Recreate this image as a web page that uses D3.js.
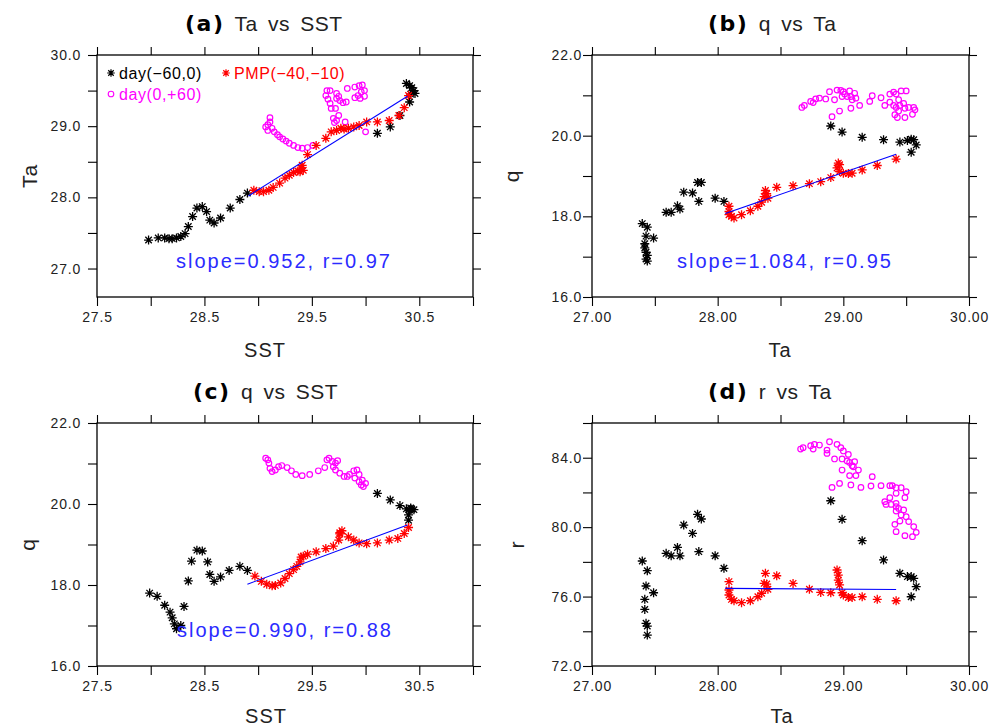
<!DOCTYPE html>
<html>
<head>
<meta charset="utf-8">
<script src="https://cdn.jsdelivr.net/npm/d3@7.9.0/dist/d3.min.js"></script>
<style>
  body { margin: 0; background: #fff; }
  svg { display: block; }
  text { font-family: "Liberation Sans", Arial, sans-serif; }
</style>
</head>
<body>
<svg id="chart" width="991" height="728"></svg>
<script>
// ---- (a) Ta vs SST : [SST, Ta]
const taSstPre = [[27.98,27.40],[28.07,27.43],[28.13,27.43],[28.17,27.42],[28.20,27.42],[28.24,27.43],[28.28,27.45],[28.32,27.49],[28.35,27.59],[28.39,27.73],[28.43,27.85],[28.48,27.87],[28.52,27.80],[28.55,27.68],[28.59,27.64],[28.65,27.71],[28.74,27.85],[28.83,27.97],[28.90,28.06],
  [30.11,28.90],[30.23,28.99],[30.32,29.15],[30.41,29.34],[30.38,29.60],[30.41,29.57],[30.43,29.54],[30.45,29.50],[30.46,29.46],[30.42,29.45]];
const taSstPmp = [[28.96,28.10],[29.01,28.08],[29.05,28.08],[29.10,28.10],[29.14,28.14],[29.20,28.20],[29.25,28.27],[29.29,28.31],[29.33,28.35],[29.37,28.37],[29.40,28.41],[29.41,28.45],[29.42,28.38],[29.39,28.36],[29.46,28.60],[29.54,28.73],[29.63,28.83],[29.68,28.92],[29.73,28.94],[29.77,28.97],[29.80,28.96],[29.84,28.97],[29.89,28.99],[29.94,29.01],[30.01,29.06],[30.11,29.06],[30.22,29.08],[30.31,29.15],[30.36,29.26],[30.40,29.43]];
const taSstPost = [[29.11,29.12],[29.11,29.06],[29.09,29.02],[29.07,28.99],[29.09,28.94],[29.13,28.97],[29.15,28.92],[29.18,28.88],[29.20,28.85],[29.23,28.82],[29.26,28.79],[29.29,28.76],[29.33,28.73],[29.37,28.70],[29.41,28.69],[29.46,28.70],[29.51,28.73],
  [29.70,29.11],[29.71,29.05],[29.73,29.08],[29.75,29.15],[29.72,29.25],[29.68,29.25],[29.67,29.32],[29.65,29.38],[29.63,29.43],[29.64,29.50],[29.67,29.50],[29.73,29.46],[29.75,29.42],[29.73,29.39],[29.76,29.36],[29.79,29.33],[29.82,29.34],[29.83,29.53],[29.90,29.55],[29.94,29.57],[29.97,29.58],[29.99,29.50],[29.96,29.48],[29.93,29.43],[29.90,29.40],[29.95,29.39],[29.99,29.42],[29.81,29.06],[30.00,28.92]];
const taSstFit = [[28.91,28.02],[30.39,29.42]];

// ---- (b) q vs Ta : [Ta, q]
const qTaPre = [[27.40,17.82],[27.44,17.73],[27.43,17.51],[27.49,17.46],[27.42,17.32],[27.42,17.22],[27.43,17.11],[27.44,17.03],[27.43,16.94],[27.44,16.89],[27.59,18.10],[27.63,18.10],[27.68,18.26],[27.70,18.18],[27.73,18.60],[27.80,18.58],[27.85,18.37],[27.84,18.84],[27.87,18.84],[27.98,18.45],[28.05,18.37],
  [28.90,20.24],[28.99,20.09],[29.15,19.96],[29.32,19.90],[29.45,19.84],[29.51,19.88],[29.54,19.91],[29.56,19.90],[29.54,19.59],[29.58,19.77]];
const qTaPmp = [[28.09,18.25],[28.09,18.12],[28.09,18.04],[28.11,18.00],[28.13,17.96],[28.19,18.04],[28.26,18.14],[28.32,18.25],[28.35,18.35],[28.37,18.49],[28.38,18.64],[28.39,18.56],[28.40,18.45],[28.47,18.72],[28.60,18.76],[28.73,18.81],[28.82,18.86],[28.90,18.96],[28.95,19.20],[28.96,19.32],[28.97,19.28],[28.97,19.11],[29.00,19.07],[29.04,19.06],[29.07,19.07],[29.15,19.15],[29.27,19.26],[29.42,19.42]];
const qTaPost = [[28.67,20.70],[28.69,20.75],[28.74,20.85],[28.76,20.82],[28.78,20.91],[28.81,20.93],[28.86,20.91],[28.89,21.09],[28.93,20.89],[28.95,21.13],[28.98,21.12],[28.99,20.97],[29.00,21.09],[29.01,21.03],[29.03,20.97],[29.05,21.11],[29.06,20.97],[29.07,20.89],[29.09,21.05],[29.10,20.93],[29.13,20.75],[29.06,20.68],[28.97,20.61],[28.91,20.47],[29.23,20.99],[29.21,20.85],[29.30,20.94],[29.37,21.03],[29.37,20.83],[29.40,21.08],[29.42,21.03],[29.44,20.89],[29.46,21.11],[29.50,21.11],[29.45,20.75],[29.48,20.80],[29.49,20.68],[29.52,20.70],[29.40,20.75],[29.33,20.75],[29.41,20.52],[29.43,20.45],[29.49,20.45],[29.55,20.53],[29.57,20.64],[29.56,20.70],[29.42,20.70],[29.44,20.61]];
const qTaFit = [[28.06,18.07],[29.42,19.54]];

// ---- (c) q vs SST : [SST, q]
const qSstPre = [[27.99,17.80],[28.06,17.72],[28.13,17.50],[28.18,17.33],[28.20,17.19],[28.22,17.04],[28.24,16.92],[28.28,17.00],[28.31,17.47],[28.35,18.10],[28.38,18.59],[28.43,18.86],[28.48,18.84],[28.53,18.57],[28.55,18.26],[28.59,18.09],[28.65,18.20],[28.73,18.36],[28.83,18.46],[28.90,18.36],
  [30.11,20.26],[30.23,20.10],[30.32,19.96],[30.38,19.88],[30.41,19.86],[30.43,19.87],[30.45,19.86],[30.42,19.90],[30.40,19.73],[30.40,19.60]];
const qSstPmp = [[28.97,18.22],[29.03,18.09],[29.08,18.02],[29.13,17.98],[29.16,17.99],[29.21,18.05],[29.25,18.16],[29.29,18.28],[29.33,18.38],[29.36,18.46],[29.39,18.57],[29.40,18.69],[29.42,18.71],[29.46,18.76],[29.54,18.82],[29.63,18.90],[29.70,18.96],[29.75,19.11],[29.76,19.26],[29.78,19.34],[29.76,19.29],[29.84,19.19],[29.89,19.11],[29.94,19.04],[30.01,19.02],[30.11,19.04],[30.22,19.11],[30.30,19.15],[30.36,19.27],[30.40,19.42]];
const qSstPost = [[29.07,21.13],[29.09,21.09],[29.10,21.01],[29.11,20.88],[29.13,20.80],[29.16,20.84],[29.19,20.92],[29.22,20.95],[29.27,20.90],[29.31,20.82],[29.35,20.73],[29.41,20.70],[29.48,20.73],[29.56,20.82],[29.62,20.90],[29.64,21.09],[29.66,21.13],[29.69,21.05],[29.72,21.01],[29.74,21.07],[29.70,20.92],[29.72,20.84],[29.76,20.76],[29.80,20.68],[29.83,20.68],[29.85,20.73],[29.89,20.82],[29.92,20.84],[29.94,20.73],[29.90,20.64],[29.94,20.55],[29.96,20.47],[29.98,20.43],[30.00,20.51],[29.97,20.59]];
const qSstFit = [[28.90,18.02],[30.39,19.48]];

// ---- (d) r vs Ta : [Ta, r]
const rTaPre = [[27.40,78.05],[27.44,77.49],[27.43,76.61],[27.49,76.22],[27.42,75.84],[27.42,75.26],[27.43,74.46],[27.44,74.30],[27.44,73.78],[27.59,78.49],[27.63,78.35],[27.68,78.83],[27.70,78.35],[27.73,80.12],[27.80,79.64],[27.85,78.59],[27.84,80.74],[27.87,80.47],[27.98,78.35],[28.05,77.63],
  [28.90,81.52],[28.99,80.45],[29.15,79.22],[29.32,78.11],[29.45,77.34],[29.51,77.15],[29.54,77.15],[29.56,77.05],[29.54,75.99],[29.58,76.57]];
const rTaPmp = [[28.09,76.86],[28.09,76.38],[28.09,76.09],[28.11,75.84],[28.13,75.76],[28.19,75.65],[28.26,75.76],[28.32,75.99],[28.35,76.19],[28.37,76.76],[28.38,77.34],[28.39,76.72],[28.40,76.42],[28.47,77.20],[28.60,76.76],[28.73,76.42],[28.82,76.24],[28.90,76.22],[28.95,77.53],[28.96,77.24],[28.96,76.95],[28.97,76.67],[28.99,76.22],[29.00,76.09],[29.04,75.95],[29.07,75.95],[29.15,75.99],[29.27,75.84],[29.42,75.76]];
const rTaPost = [[28.66,84.50],[28.68,84.58],[28.74,84.69],[28.77,84.77],[28.81,84.73],[28.76,84.50],[28.87,84.44],[28.87,84.25],[28.89,84.92],[28.95,84.77],[28.98,84.58],[29.00,84.39],[29.04,84.19],[28.93,83.93],[28.99,83.93],[29.03,83.81],[29.05,83.73],[29.07,83.54],[29.09,83.77],[29.08,83.48],[29.12,83.29],[28.99,83.29],[29.05,82.97],[29.10,82.97],[29.23,82.91],[28.91,82.29],[28.97,82.52],[29.06,82.43],[29.14,82.29],[29.22,82.37],[29.30,82.39],[29.37,82.39],[29.39,82.39],[29.42,82.27],[29.46,82.27],[29.50,82.04],[29.42,81.95],[29.49,81.70],[29.37,81.70],[29.33,81.47],[29.34,81.31],[29.38,81.31],[29.42,81.37],[29.42,81.18],[29.44,81.08],[29.48,80.99],[29.42,80.93],[29.46,80.70],[29.50,80.60],[29.45,80.35],[29.52,80.32],[29.41,80.16],[29.56,80.03],[29.42,79.74],[29.58,79.70],[29.49,79.51],[29.55,79.45]];
const rTaFit = [[28.06,76.47],[29.42,76.41]];

// axis ticks
const sstTicks = [27.5, 28.0, 28.5, 29.0, 29.5, 30.0, 30.5, 31.0];
const sstLabels = [27.5, 28.5, 29.5, 30.5];
const taTicks = [27.0, 27.5, 28.0, 28.5, 29.0, 29.5, 30.0];
const taLabels = [27.0, 28.0, 29.0, 30.0];
const qTicks = [16, 17, 18, 19, 20, 21, 22];
const qLabels = [16, 18, 20, 22];
const rTicks = [72, 74, 76, 78, 80, 82, 84, 86];
const rLabels = [72, 76, 80, 84];

const svg = d3.select("#chart");

function asterisk(r) {
  const d = r * 0.72;
  return `M${-r},0H${r}M0,${-r}V${r}M${-d},${-d}L${d},${d}M${-d},${d}L${d},${-d}`;
}

function drawPanel(p) {
  const g = svg.append("g");
  const x = d3.scaleLinear().domain(p.xDomain).range([p.left, p.right]);
  const y = d3.scaleLinear().domain(p.yDomain).range([p.bottom, p.top]);

  const lab = (vals, fmt) => d => vals.some(v => Math.abs(v - d) < 1e-6) ? d3.format(fmt)(d) : "";

  const styleAxis = sel => {
    sel.select(".domain").remove();
    sel.selectAll(".tick line").attr("stroke", "#000").attr("stroke-width", 1.1);
    sel.selectAll(".tick text").attr("fill", "#222").style("font-size", "14px").style("letter-spacing", "0.8px");
  };

  g.append("g").attr("transform", `translate(0,${p.bottom})`)
    .call(d3.axisBottom(x).tickValues(p.xTicks).tickFormat(lab(p.xLabels, p.xFmt)).tickSize(9).tickSizeOuter(0).tickPadding(6))
    .call(styleAxis);
  g.append("g").attr("transform", `translate(0,${p.top})`)
    .call(d3.axisTop(x).tickValues(p.xTicks).tickFormat("").tickSize(8).tickSizeOuter(0))
    .call(styleAxis);
  g.append("g").attr("transform", `translate(${p.left},0)`)
    .call(d3.axisLeft(y).tickValues(p.yTicks).tickFormat(lab(p.yLabels, ".1f")).tickSize(9).tickSizeOuter(0).tickPadding(p.yPad))
    .call(styleAxis);
  g.append("g").attr("transform", `translate(${p.right},0)`)
    .call(d3.axisRight(y).tickValues(p.yTicks).tickFormat("").tickSize(8).tickSizeOuter(0))
    .call(styleAxis);

  g.append("rect")
    .attr("x", p.left).attr("y", p.top)
    .attr("width", p.right - p.left).attr("height", p.bottom - p.top)
    .attr("fill", "none").attr("stroke", "#000").attr("stroke-width", 1.3);

  // day(-60,0)
  g.append("g").selectAll("path").data(p.pre).join("path")
    .attr("d", asterisk(4.5))
    .attr("transform", d => `translate(${x(d[0])},${y(d[1])})`)
    .attr("stroke", "#000").attr("stroke-width", 1.3);
  // day(0,+60)
  g.append("g").selectAll("circle").data(p.post).join("circle")
    .attr("cx", d => x(d[0])).attr("cy", d => y(d[1])).attr("r", 2.8)
    .attr("fill", "none").attr("stroke", "#ff00ff").attr("stroke-width", 1.2);
  // PMP(-40,-10)
  g.append("g").selectAll("path").data(p.pmp).join("path")
    .attr("d", asterisk(4.5))
    .attr("transform", d => `translate(${x(d[0])},${y(d[1])})`)
    .attr("stroke", "#ff0000").attr("stroke-width", 1.3);

  // regression line
  g.append("path")
    .datum(p.fit)
    .attr("d", d3.line().x(d => x(d[0])).y(d => y(d[1])))
    .attr("fill", "none").attr("stroke", "#0000ff").attr("stroke-width", 1.1);

  if (p.note) {
    g.append("text")
      .attr("x", p.left + p.noteDx).attr("y", p.bottom - 29)
      .attr("fill", "#2b2bff").style("font-size", "20px").style("letter-spacing", "2px")
      .text(p.note);
  }

  // title
  const t = g.append("text").attr("x", p.titleX).attr("y", p.top - 24).attr("fill", "#000");
  t.append("tspan").text(p.tag)
    .style("font-family", "'DejaVu Sans', sans-serif").style("font-weight", "bold")
    .style("font-size", "22px").style("letter-spacing", "1.5px");
  t.append("tspan").text(" " + p.title)
    .style("font-size", "21px").style("letter-spacing", "0.5px").style("word-spacing", "4px").attr("fill", "#222");

  // axis titles
  g.append("text")
    .attr("x", p.xTitleX).attr("y", p.bottom + p.xTitleDy)
    .attr("text-anchor", "middle").attr("fill", "#222")
    .style("font-size", "20px").style("letter-spacing", "1px")
    .text(p.xTitle);
  g.append("text")
    .attr("transform", `translate(${p.left - p.yTitleDx},${(p.top + p.bottom) / 2}) rotate(-90)`)
    .attr("text-anchor", "middle").attr("fill", "#222")
    .style("font-size", "21px").style("letter-spacing", "1px")
    .text(p.yTitle);

  return { x, y, g };
}

const topRow = { top: 55, bottom: 297, xTitleDy: 60 };
const botRow = { top: 423, bottom: 666, xTitleDy: 57 };
const leftCol = { left: 97, right: 473 };
const rightCol = { left: 592, right: 969 };

drawPanel({ ...topRow, ...leftCol,
  xDomain: [27.5, 31.0], yDomain: [26.6, 30.0],
  xTicks: sstTicks, xLabels: sstLabels, xFmt: ".1f",
  yTicks: taTicks, yLabels: taLabels, yPad: 7,
  pre: taSstPre, pmp: taSstPmp, post: taSstPost, fit: taSstFit,
  note: "slope=0.952, r=0.97", noteDx: 79,
  tag: "(a)", title: "Ta vs SST", titleX: 185,
  xTitle: "SST", xTitleX: 265, yTitle: "Ta", yTitleDx: 60 });

drawPanel({ ...topRow, ...rightCol,
  xDomain: [27.0, 30.0], yDomain: [16, 22],
  xTicks: taTicks, xLabels: taLabels, xFmt: ".2f",
  yTicks: qTicks, yLabels: qLabels, yPad: 1,
  pre: qTaPre, pmp: qTaPmp, post: qTaPost, fit: qTaFit,
  note: "slope=1.084, r=0.95", noteDx: 85,
  tag: "(b)", title: "q vs Ta", titleX: 708,
  xTitle: "Ta", xTitleX: 780, yTitle: "q", yTitleDx: 73 });

drawPanel({ ...botRow, ...leftCol,
  xDomain: [27.5, 31.0], yDomain: [16, 22],
  xTicks: sstTicks, xLabels: sstLabels, xFmt: ".1f",
  yTicks: qTicks, yLabels: qLabels, yPad: 7,
  pre: qSstPre, pmp: qSstPmp, post: qSstPost, fit: qSstFit,
  note: "slope=0.990, r=0.88", noteDx: 80,
  tag: "(c)", title: "q vs SST", titleX: 193,
  xTitle: "SST", xTitleX: 266, yTitle: "q", yTitleDx: 62 });

drawPanel({ ...botRow, ...rightCol,
  xDomain: [27.0, 30.0], yDomain: [72, 86],
  xTicks: taTicks, xLabels: taLabels, xFmt: ".2f",
  yTicks: rTicks, yLabels: rLabels, yPad: 1,
  pre: rTaPre, pmp: rTaPmp, post: rTaPost, fit: rTaFit,
  note: null,
  tag: "(d)", title: "r vs Ta", titleX: 708,
  xTitle: "Ta", xTitleX: 782, yTitle: "r", yTitleDx: 68 });

// legend inside panel (a)
const legend = svg.append("g").style("font-size", "16px");
const legItems = [
  { label: "day(\u221260,0)", color: "#000", mark: "star", lx: 111, ly: 73 },
  { label: "PMP(\u221240,\u221210)", color: "#ff0000", mark: "star", lx: 226, ly: 73 },
  { label: "day(0,+60)", color: "#ff00ff", mark: "circle", lx: 111, ly: 94 }
];
legItems.forEach(it => {
  if (it.mark === "star") {
    legend.append("path").attr("d", asterisk(3.8))
      .attr("transform", `translate(${it.lx},${it.ly})`)
      .attr("stroke", it.color).attr("stroke-width", 1.2);
  } else {
    legend.append("circle").attr("cx", it.lx).attr("cy", it.ly).attr("r", 2.8)
      .attr("fill", "none").attr("stroke", it.color).attr("stroke-width", 1.1);
  }
  legend.append("text").attr("x", it.lx + 8).attr("y", it.ly + 6)
    .attr("fill", it.color).style("letter-spacing", "0.6px").text(it.label);
});
</script>
</body>
</html>
